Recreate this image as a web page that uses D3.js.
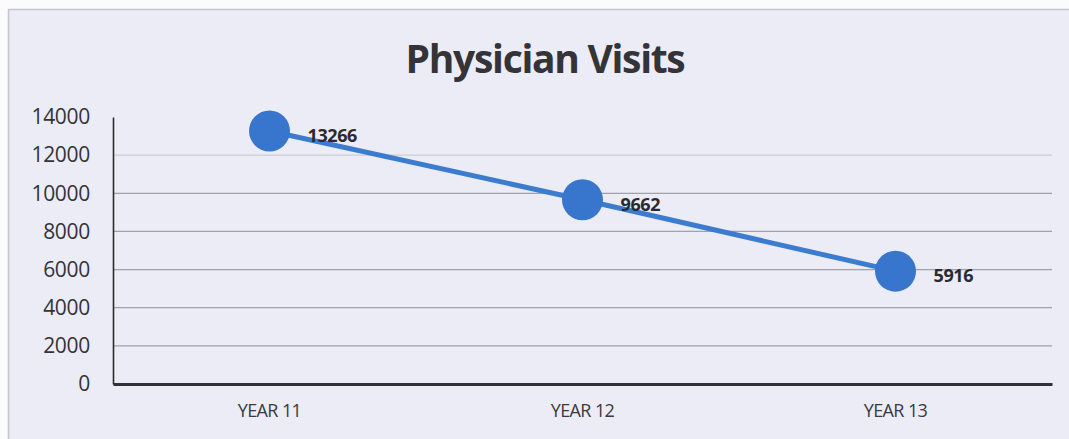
<!DOCTYPE html>
<html>
<head>
<meta charset="utf-8">
<script src="https://cdn.jsdelivr.net/npm/d3@7"></script>
<style>
  html, body { margin: 0; padding: 0; background: #fbfbfd; }
  svg { display: block; }
</style>
</head>
<body>
<svg id="chart" width="1069" height="439"></svg>
<script>
// Physician visits per year
const categories = ["YEAR 11", "YEAR 12", "YEAR 13"];
const visits = [13266, 9662, 5916];
const yTicks = [0, 2000, 4000, 6000, 8000, 10000, 12000, 14000];

const W = 1069, H = 439;
const margin = { left: 113, right: 17, top: 117, bottom: 55 };

const svg = d3.select("#chart");

// chart frame
svg.append("rect")
  .attr("x", 8.5).attr("y", 9.5)
  .attr("width", W).attr("height", H)
  .attr("fill", "#ececf6")
  .attr("stroke", "#c4c4cc")
  .attr("stroke-width", 1.5);

const x = d3.scaleBand()
  .domain(categories)
  .range([margin.left, W - margin.right]);

const y = d3.scaleLinear()
  .domain([0, 14000])
  .range([H - margin.bottom, margin.top]);

// horizontal gridlines
svg.append("g")
  .selectAll("line")
  .data(yTicks.filter(d => d > 0 && d < 14000))
  .join("line")
  .attr("x1", margin.left).attr("x2", W - margin.right)
  .attr("y1", d => y(d)).attr("y2", d => y(d))
  .attr("stroke", "#8e8e96")
  .attr("stroke-opacity", d => d === 12000 ? 0.35 : 0.8)
  .attr("stroke-width", 1.2);

// y axis
const yAxis = svg.append("g")
  .attr("transform", `translate(${margin.left},0)`)
  .call(d3.axisLeft(y).tickValues(yTicks).tickSize(0).tickPadding(23).tickFormat(d3.format("d")));
yAxis.select(".domain").attr("stroke", "#2a2a30").attr("stroke-width", 1.6);
yAxis.selectAll("text")
  .attr("font-family", "Open Sans, sans-serif")
  .attr("font-size", 21)
  .attr("letter-spacing", -0.3)
  .attr("fill", "#333338");

// x axis
const xAxis = svg.append("g")
  .attr("transform", `translate(0,${y(0)})`)
  .call(d3.axisBottom(x).tickSize(0).tickPadding(20));
xAxis.select(".domain").attr("stroke", "#303036").attr("stroke-width", 3);
xAxis.selectAll("text")
  .attr("font-family", "Open Sans, sans-serif")
  .attr("font-size", 18)
  .attr("letter-spacing", -0.6)
  .attr("fill", "#3a3a40");

const cx = d => x(d) + x.bandwidth() / 2;

// series line
const line = d3.line()
  .x((d, i) => cx(categories[i]))
  .y(d => y(d));

svg.append("path")
  .datum(visits)
  .attr("d", line)
  .attr("fill", "none")
  .attr("stroke", "#3b7ccf")
  .attr("stroke-width", 5);

// markers
svg.append("g")
  .selectAll("circle")
  .data(visits)
  .join("circle")
  .attr("cx", (d, i) => cx(categories[i]))
  .attr("cy", d => y(d))
  .attr("r", 20.5)
  .attr("fill", "#3776cc");

// value labels
svg.append("g")
  .selectAll("text")
  .data(visits)
  .join("text")
  .attr("x", (d, i) => cx(categories[i]) + 38)
  .attr("y", d => y(d) + 11)
  .attr("font-family", "Open Sans, sans-serif")
  .attr("font-weight", "bold")
  .attr("font-size", 18)
  .attr("letter-spacing", -0.4)
  .attr("fill", "#2a2a30")
  .text(d => d);

// title
svg.append("text")
  .attr("x", 545)
  .attr("y", 73)
  .attr("text-anchor", "middle")
  .attr("font-family", "Open Sans, sans-serif")
  .attr("font-weight", "bold")
  .attr("font-size", 39)
  .attr("letter-spacing", -1.3)
  .attr("fill", "#333338")
  .text("Physician Visits");
</script>
</body>
</html>
